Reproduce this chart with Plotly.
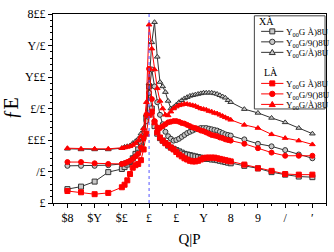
import plotly.graph_objects as go

X = [-3, -2.5, -2, -1.5, -1,
     -0.9, -0.8, -0.7, -0.6, -0.5, -0.4, -0.3, -0.2, -0.1, 0.0,
     0.1, 0.2, 0.3, 0.4, 0.5, 0.6, 0.7, 0.8, 0.9, 1.0,
     1.1, 1.2, 1.3, 1.4, 1.5, 1.6, 1.7, 1.8, 1.9, 2.0,
     2.1, 2.2, 2.3, 2.4, 2.5, 2.6, 2.7, 2.8, 2.9, 3.0,
     3.5, 4, 4.5, 5, 5.5, 6]

black_square = [22, 26, 34, 49, 54,
                57, 61, 65, 71, 78, 85, 95, 110, 135, 185,
                150, 122, 110, 103, 99, 95, 91, 88, 86, 84,
                82, 80, 78, 77, 76, 75, 74, 73, 72, 71,
                70, 70, 69, 69, 68, 67, 66, 65, 64, 63,
                59, 55, 49, 45, 42, 41]
black_circle = [59, 59, 59, 60, 62,
                63, 64, 66, 70, 74, 80, 90, 104, 130, 175,
                212, 185, 160, 140, 125, 113, 106, 102, 99, 100,
                102, 105, 108, 111, 113, 115, 117, 118, 119, 119,
                119, 118, 117, 116, 115, 113, 111, 109, 108, 107,
                101, 94, 90, 84, 77, 71]
black_triangle = [86, 85, 85, 85, 87,
                  89, 90, 91, 95, 98, 102, 110, 119, 140, 190,
                  255, 287, 232, 192, 185, 176, 162, 150, 152, 156,
                  160, 163, 166, 168, 170, 171, 172, 173, 174, 175,
                  175, 175, 175, 174, 173, 171, 169, 167, 163, 160,
                  149, 143, 135, 128, 119, 110]
red_square = [19, 17, 14, 16, 25,
              29, 36, 46, 56, 60, 62, 68, 85, 110, 140,
              145, 128, 112, 104, 99, 95, 92, 88, 85, 81,
              77, 74, 71, 69, 67, 66, 66, 67, 69, 71,
              72, 72, 72, 72, 71, 70, 69, 68, 67, 66,
              61, 55, 51, 46, 45, 45]
red_circle = [65, 65, 63, 62, 62,
              63, 65, 67, 70, 74, 78, 88, 102, 140, 213,
              165, 130, 120, 119, 122, 125, 128, 129, 130, 130,
              129, 127, 126, 124, 122, 120, 119, 117, 115, 114,
              112, 110, 108, 107, 106, 104, 103, 101, 100, 99,
              94, 87, 80, 75, 75, 75]
red_triangle = [87, 86, 86, 86, 87,
                88, 89, 90, 92, 95, 99, 106, 118, 160, 283,
                245, 212, 182, 162, 150, 140, 139, 145, 150, 153,
                155, 156, 157, 157, 156, 155, 154, 152, 150, 149,
                148, 146, 145, 143, 142, 140, 138, 136, 134, 132,
                124, 119, 109, 103, 99, 93]

names_black = ["Y<sub>00</sub>G À)8U", "Y<sub>00</sub>G/9()8U", "Y<sub>00</sub>G/À)8U"]
names_red = ["Y<sub>00</sub>G À)8U", "Y<sub>00</sub>G/9()8U", "Y<sub>00</sub>G/À)8U"]
group_black = "XÀ"
group_red = "LÀ"

x_tickvals = [-3, -2, -1, 0, 1, 2, 3, 4, 5, 6]
x_ticktext = ["$8", "$Y", "$£", "£", "£", "Y", "8", "9", "/", "′"]
y_tickvals = [0, 50, 100, 150, 200, 250, 300]
y_ticktext = ["£", "/£", "£££", "£/£", "Y££", "Y/£", "8££"]

W, H = 334, 252
ML, MR, MT, MB = 45, 7, 8, 37
PW, PH = W - ML - MR, H - MT - MB


def px(xpix):
    return (xpix - ML) / PW


def py(ypix):
    return (H - MB - ypix) / PH


SERIF = "Liberation Serif"
BLACK_LINE = "#333333"
BLACK_FILL = "#c8c8c8"
RED = "#ff0000"

fig = go.Figure()
styles = []
for ys, sym, nm in zip([black_square, black_circle, black_triangle],
                       ["square", "circle", "triangle-up"], names_black):
    fig.add_trace(go.Scatter(
        x=X, y=ys, mode="lines+markers", name=nm, showlegend=False,
        line=dict(color=BLACK_LINE, width=1),
        marker=dict(symbol=sym, size=5, color=BLACK_FILL, line=dict(color=BLACK_LINE, width=1)),
    ))
    styles.append((sym, nm, BLACK_LINE, BLACK_FILL))
for ys, sym, nm in zip([red_square, red_circle, red_triangle],
                       ["square", "circle", "triangle-up"], names_red):
    fig.add_trace(go.Scatter(
        x=X, y=ys, mode="lines+markers", name=nm, showlegend=False,
        line=dict(color=RED, width=1),
        marker=dict(symbol=sym, size=5, color=RED, line=dict(color=RED, width=1)),
    ))
    styles.append((sym, nm, RED, RED))

shapes = []
annotations = []
# dotted reference line at x = 0
shapes.append(dict(type="line", xref="x", yref="paper", x0=0, x1=0, y0=0, y1=1,
                   line=dict(color="#5555ff", width=1, dash="dot")))

# hand-built legend box (two groups)
shapes.append(dict(type="rect", xref="paper", yref="paper",
                   x0=px(253), x1=px(326), y0=py(112), y1=py(10),
                   line=dict(color="#444444", width=1), fillcolor="white", layer="above"))
annotations.append(dict(text=group_black, xref="paper", yref="paper", x=px(266), y=py(16),
                        xanchor="center", yanchor="middle",
                        showarrow=False, font=dict(family=SERIF, size=10, color="black")))
annotations.append(dict(text=group_red, xref="paper", yref="paper", x=px(270), y=py(72),
                        xanchor="center", yanchor="middle",
                        showarrow=False, font=dict(family=SERIF, size=10, color="black")))
row_y = [27, 38.5, 50, 84, 95.5, 107]
for (sym, nm, lc, fc), ry in zip(styles, row_y):
    shapes.append(dict(type="line", xref="paper", yref="paper",
                       x0=px(260), x1=px(283), y0=py(ry), y1=py(ry),
                       line=dict(color=lc, width=1), layer="above"))
    common = dict(xref="paper", yref="paper", xsizemode="pixel", ysizemode="pixel",
                  xanchor=px(271.5), yanchor=py(ry), fillcolor=fc,
                  line=dict(color=lc, width=1), layer="above")
    if sym == "square":
        shapes.append(dict(type="rect", x0=-2.5, x1=2.5, y0=-2.5, y1=2.5, **common))
    elif sym == "circle":
        shapes.append(dict(type="circle", x0=-2.7, x1=2.7, y0=-2.7, y1=2.7, **common))
    else:
        shapes.append(dict(type="path", path="M -3,-2.2 L 3,-2.2 L 0,3 Z", **common))
    annotations.append(dict(text=nm, xref="paper", yref="paper", x=px(284), y=py(ry + 1.5),
                            xanchor="left", yanchor="middle", showarrow=False,
                            font=dict(family=SERIF, size=9, color="black")))

axis_font = dict(family=SERIF, size=12, color="black")
fig.update_layout(
    width=W, height=H,
    margin=dict(l=ML, r=MR, t=MT, b=MB),
    paper_bgcolor="white", plot_bgcolor="white",
    font=dict(family=SERIF, size=10, color="black"),
    showlegend=False,
    shapes=shapes, annotations=annotations,
    xaxis=dict(range=[-3.53, 6.5], tickvals=x_tickvals, ticktext=x_ticktext,
               showgrid=False, zeroline=False, showline=True, linecolor="black",
               linewidth=1, mirror=True, ticks="outside", ticklen=4, tickcolor="black",
               tickfont=axis_font,
               minor=dict(dtick=0.5, ticks="outside", ticklen=2, tickcolor="black"),
               title=dict(text="Q|P", font=dict(family=SERIF, size=15), standoff=9)),
    yaxis=dict(range=[0, 300], tickvals=y_tickvals, ticktext=y_ticktext,
               showgrid=False, zeroline=False, showline=True, linecolor="black",
               linewidth=1, mirror=True, ticks="outside", ticklen=4, tickcolor="black",
               tickfont=axis_font,
               minor=dict(dtick=10, ticks="outside", ticklen=2, tickcolor="black"),
               title=dict(text="ƒE", font=dict(family=SERIF, size=20), standoff=4)),
)

fig.write_html("out.html")
